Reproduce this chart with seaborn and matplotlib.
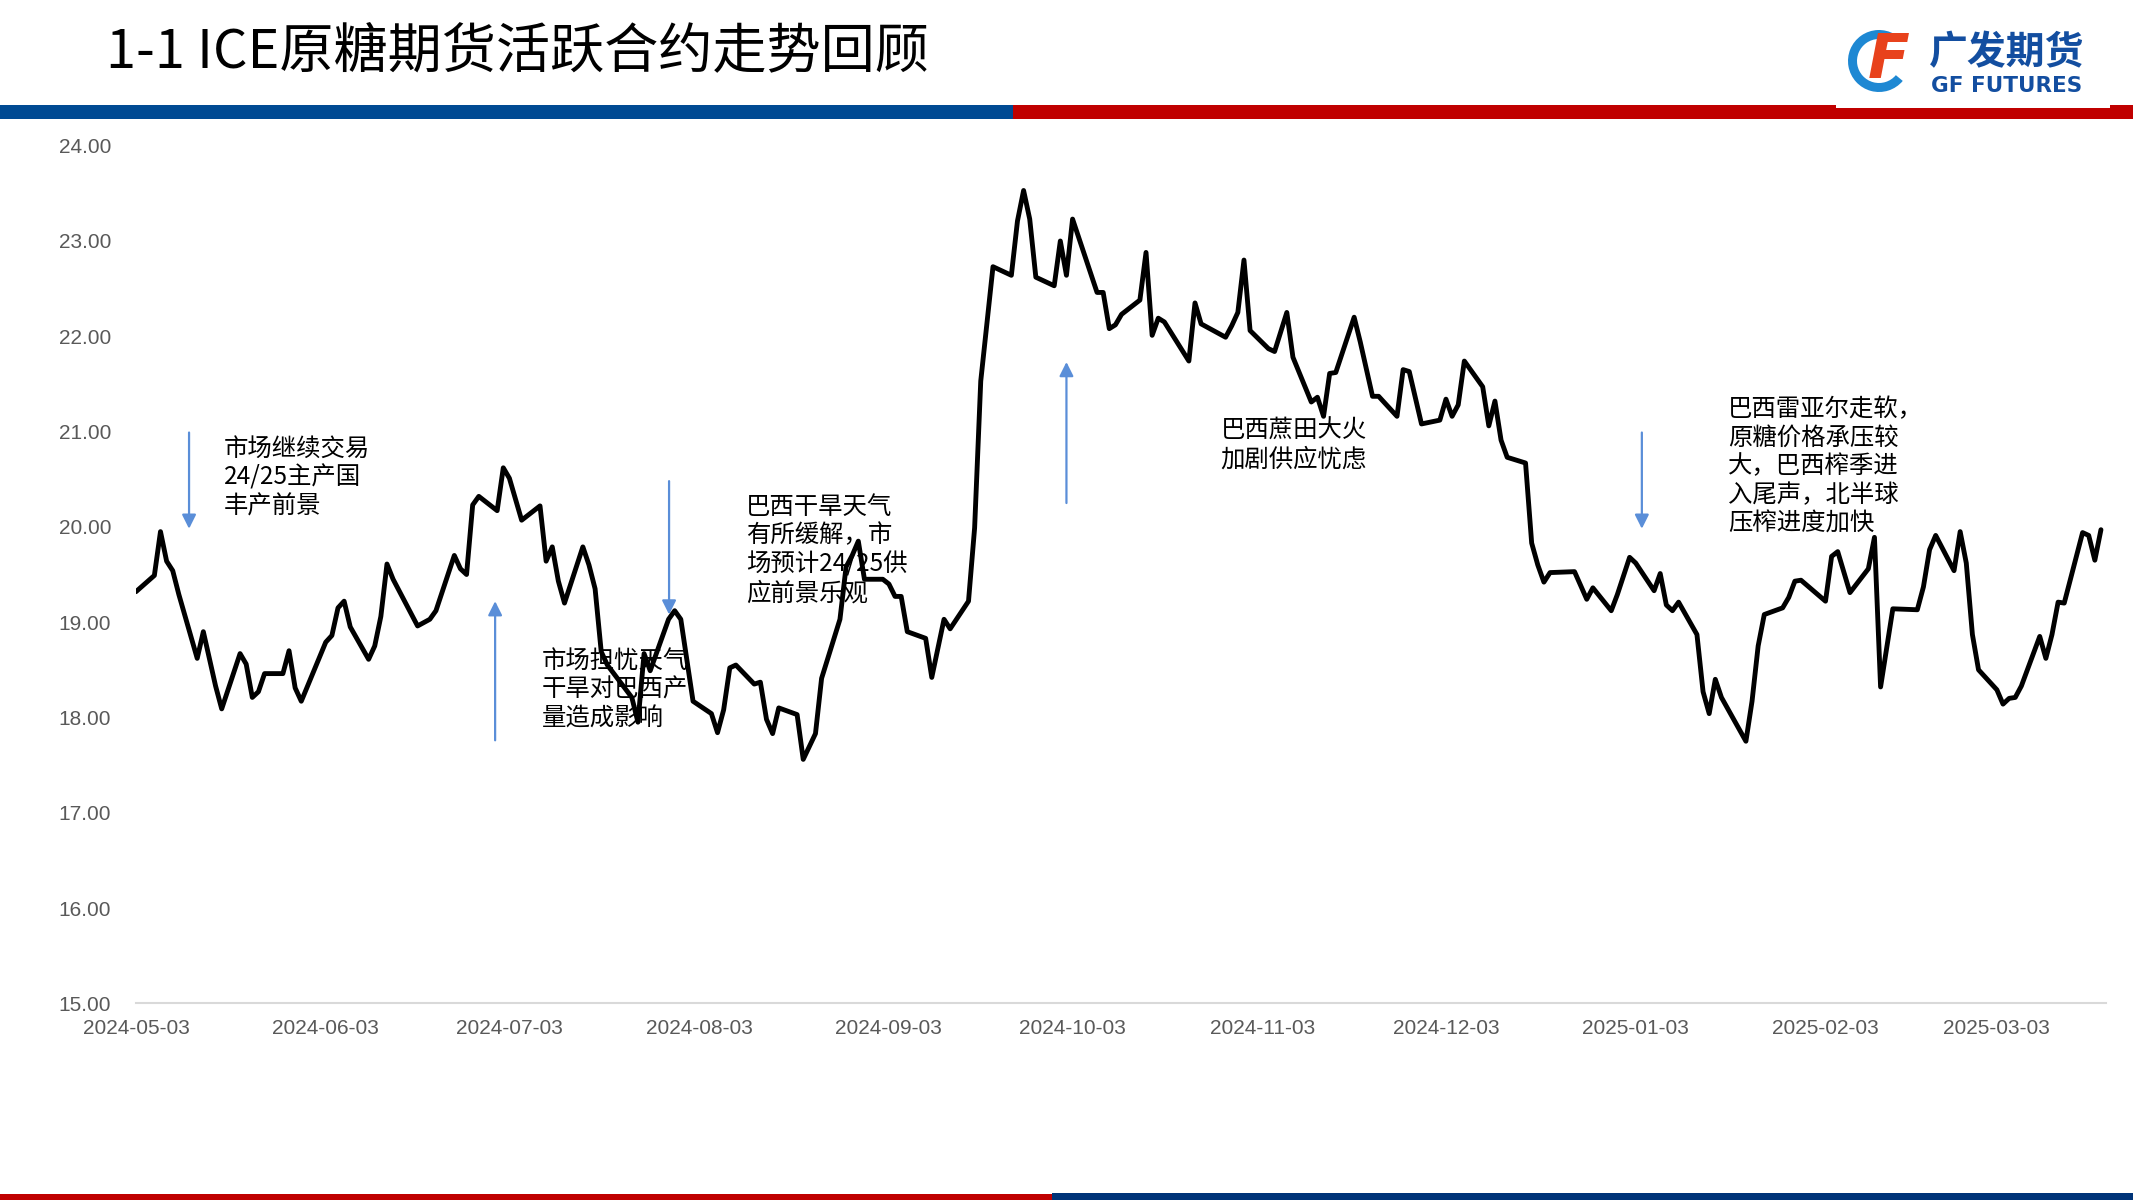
import pandas as pd
import matplotlib
matplotlib.use('Agg')
import matplotlib.pyplot as plt
from matplotlib.patches import Rectangle, Wedge
import seaborn as sns

# ICE raw sugar active contract
dates = [
    '2024-05-03', '2024-05-06', '2024-05-07', '2024-05-08', '2024-05-09', '2024-05-10',
    '2024-05-13', '2024-05-14', '2024-05-16', '2024-05-17', '2024-05-20', '2024-05-21',
    '2024-05-22', '2024-05-23', '2024-05-24', '2024-05-27', '2024-05-28', '2024-05-29',
    '2024-05-30',
    '2024-06-03', '2024-06-04', '2024-06-05', '2024-06-06', '2024-06-07', '2024-06-10',
    '2024-06-11', '2024-06-12', '2024-06-13', '2024-06-14', '2024-06-18', '2024-06-20',
    '2024-06-21', '2024-06-24', '2024-06-25', '2024-06-26', '2024-06-27', '2024-06-28',
    '2024-07-01', '2024-07-02', '2024-07-03', '2024-07-05', '2024-07-08', '2024-07-09',
    '2024-07-10', '2024-07-11', '2024-07-12', '2024-07-15', '2024-07-16', '2024-07-17',
    '2024-07-18', '2024-07-19', '2024-07-23', '2024-07-24', '2024-07-25', '2024-07-26',
    '2024-07-29', '2024-07-30', '2024-07-31',
    '2024-08-02', '2024-08-05', '2024-08-06', '2024-08-07', '2024-08-08', '2024-08-09',
    '2024-08-12', '2024-08-13', '2024-08-14', '2024-08-15', '2024-08-16', '2024-08-19',
    '2024-08-20', '2024-08-22', '2024-08-23', '2024-08-26', '2024-08-27', '2024-08-28',
    '2024-08-29', '2024-08-30',
    '2024-09-02', '2024-09-03', '2024-09-04', '2024-09-05', '2024-09-06', '2024-09-09',
    '2024-09-10', '2024-09-12', '2024-09-13', '2024-09-16', '2024-09-17', '2024-09-18',
    '2024-09-20', '2024-09-23', '2024-09-24', '2024-09-25', '2024-09-26', '2024-09-27',
    '2024-09-30',
    '2024-10-01', '2024-10-02', '2024-10-03', '2024-10-07', '2024-10-08', '2024-10-09',
    '2024-10-10', '2024-10-11', '2024-10-14', '2024-10-15', '2024-10-16', '2024-10-17',
    '2024-10-18', '2024-10-22', '2024-10-23', '2024-10-24', '2024-10-28', '2024-10-29',
    '2024-10-30', '2024-10-31',
    '2024-11-01', '2024-11-04', '2024-11-05', '2024-11-07', '2024-11-08', '2024-11-11',
    '2024-11-12', '2024-11-13', '2024-11-14', '2024-11-15', '2024-11-18', '2024-11-19',
    '2024-11-21', '2024-11-22', '2024-11-25', '2024-11-26', '2024-11-27', '2024-11-29',
    '2024-12-02', '2024-12-03', '2024-12-04', '2024-12-05', '2024-12-06', '2024-12-09',
    '2024-12-10', '2024-12-11', '2024-12-12', '2024-12-13', '2024-12-16', '2024-12-17',
    '2024-12-18', '2024-12-19', '2024-12-20', '2024-12-24', '2024-12-26', '2024-12-27',
    '2024-12-30', '2024-12-31',
    '2025-01-02', '2025-01-03', '2025-01-06', '2025-01-07', '2025-01-08', '2025-01-09',
    '2025-01-10', '2025-01-13', '2025-01-14', '2025-01-15', '2025-01-16', '2025-01-17',
    '2025-01-21', '2025-01-22', '2025-01-23', '2025-01-24', '2025-01-27', '2025-01-28',
    '2025-01-29', '2025-01-30',
    '2025-02-03', '2025-02-04', '2025-02-05', '2025-02-07', '2025-02-10', '2025-02-11',
    '2025-02-12', '2025-02-14', '2025-02-18', '2025-02-19', '2025-02-20', '2025-02-21',
    '2025-02-24', '2025-02-25', '2025-02-26', '2025-02-27', '2025-02-28',
    '2025-03-03', '2025-03-04', '2025-03-05', '2025-03-06', '2025-03-07', '2025-03-10',
    '2025-03-11', '2025-03-12', '2025-03-13', '2025-03-14', '2025-03-17', '2025-03-18',
    '2025-03-19', '2025-03-20',
]
prices = [
    19.32, 19.49, 19.95, 19.64, 19.54, 19.29,
    18.62, 18.90, 18.33, 18.09, 18.67, 18.56,
    18.21, 18.27, 18.46, 18.46, 18.70, 18.31,
    18.17,
    18.79, 18.86, 19.15, 19.22, 18.95, 18.61,
    18.75, 19.06, 19.61, 19.45, 18.96, 19.03,
    19.12, 19.70, 19.56, 19.50, 20.23, 20.32,
    20.17, 20.62, 20.51, 20.07, 20.22, 19.64,
    19.79, 19.43, 19.20, 19.79, 19.60, 19.35,
    18.69, 18.55, 18.21, 17.95, 18.67, 18.49,
    19.03, 19.12, 19.03,
    18.17, 18.04, 17.84, 18.08, 18.52, 18.55,
    18.35, 18.37, 17.98, 17.83, 18.10, 18.03,
    17.56, 17.83, 18.41, 19.03, 19.58, 19.70,
    19.85, 19.45,
    19.45, 19.40, 19.27, 19.27, 18.90, 18.83,
    18.42, 19.03, 18.93, 19.22, 19.99, 21.53,
    22.73, 22.64, 23.21, 23.53, 23.23, 22.62,
    22.53,
    23.00, 22.64, 23.23, 22.46, 22.46, 22.08,
    22.12, 22.23, 22.38, 22.88, 22.01, 22.19,
    22.15, 21.74, 22.35, 22.13, 21.99, 22.11,
    22.25, 22.80,
    22.06, 21.87, 21.84, 22.25, 21.78, 21.31,
    21.36, 21.16, 21.61, 21.62, 22.20, 21.94,
    21.37, 21.37, 21.16, 21.65, 21.63, 21.08,
    21.12, 21.34, 21.16, 21.28, 21.74, 21.47,
    21.06, 21.32, 20.91, 20.73, 20.67, 19.83,
    19.60, 19.42, 19.52, 19.53, 19.24, 19.36,
    19.12, 19.29,
    19.68, 19.62, 19.33, 19.51, 19.18, 19.12,
    19.21, 18.87, 18.27, 18.04, 18.40, 18.21,
    17.75, 18.17, 18.75, 19.08, 19.15, 19.26,
    19.43, 19.44,
    19.22, 19.69, 19.74, 19.31, 19.56, 19.89,
    18.32, 19.14, 19.13, 19.37, 19.76, 19.91,
    19.54, 19.95, 19.62, 18.87, 18.50,
    18.29, 18.14, 18.20, 18.21, 18.33, 18.85,
    18.62, 18.87, 19.21, 19.20, 19.94, 19.91,
    19.65, 19.97,
]

tick_dates = ['2024-05-03', '2024-06-03', '2024-07-03', '2024-08-03', '2024-09-03',
              '2024-10-03', '2024-11-03', '2024-12-03', '2025-01-03', '2025-02-03',
              '2025-03-03']
y_ticks = [15, 16, 17, 18, 19, 20, 21, 22, 23, 24]

title = '1-1 ICE原糖期货活跃合约走势回顾'

# arrows: (date, tail value, head value)
arrows = [
    ('2024-05-11 16:00', 20.99, 19.98),
    ('2024-06-30 16:00', 17.76, 19.22),
    ('2024-07-29 02:00', 20.48, 19.08),
    ('2024-10-02 00:00', 20.25, 21.73),
    ('2025-01-04 00:00', 20.99, 19.98),
]
# notes: (date of left edge, value of first line, lines)
notes = [
    ('2024-05-17 08:00', 20.82, ['市场继续交易', '24/25主产国', '丰产前景']),
    ('2024-07-08 08:00', 18.59, ['市场担忧天气', '干旱对巴西产', '量造成影响']),
    ('2024-08-10 16:00', 20.21, ['巴西干旱天气', '有所缓解，市', '场预计24/25供', '应前景乐观']),
    ('2024-10-27 04:00', 21.01, ['巴西蔗田大火', '加剧供应忧虑']),
    ('2025-01-18 02:00', 21.24, ['巴西雷亚尔走软，', '原糖价格承压较', '大，巴西榨季进',
                                 '入尾声，北半球', '压榨进度加快']),
]

sns.set_theme(style='white')
cjk = ['Noto Sans CJK SC', 'DejaVu Sans']
plt.rcParams['font.family'] = ['Liberation Sans', 'Noto Sans CJK SC', 'DejaVu Sans']

W, H = 2133, 1200
fig = plt.figure(figsize=(W / 100, H / 100), dpi=100)

# page decoration in pixel coordinates
bg = fig.add_axes([0, 0, 1, 1])
bg.set_xlim(0, W)
bg.set_ylim(H, 0)
bg.axis('off')
bg.add_patch(Rectangle((0, 105), 1013, 14, color='#004A93', lw=0))
bg.add_patch(Rectangle((1013, 105), W - 1013, 14, color='#C00000', lw=0))
bg.add_patch(Rectangle((1836, 0), 274, 108, color='white', lw=0))
bg.add_patch(Rectangle((0, 1194), 1052, 6, color='#C00000', lw=0))
bg.add_patch(Rectangle((1052, 1193), W - 1052, 7, color='#003478', lw=0))
bg.text(106, 52, title, fontsize=39, ha='left', va='center', color='black', family=cjk)

# logo
bg.add_patch(Wedge((1879, 61), 31, 40, 300, width=9, color='#1E88D3', lw=0))
bg.text(1889, 62, 'F', fontsize=44, fontstyle='italic', fontweight='bold',
        color='#E8421C', ha='center', va='center', family='DejaVu Sans')
bg.text(2007, 53, '广发期货', fontsize=28, fontweight='bold', color='#134EA0',
        ha='center', va='center', family=cjk)
bg.text(2007, 86, 'GF FUTURES', fontsize=15.5, fontweight='bold', color='#134EA0',
        ha='center', va='center', family='DejaVu Sans')

# chart
ax = fig.add_axes([136 / W, 1 - 1003.3 / H, (2105.8 - 136) / W, 857.6 / H])
ax.patch.set_alpha(0)

df = pd.DataFrame({'date': pd.to_datetime(dates), 'price': prices})
sns.lineplot(data=df, x='date', y='price', ax=ax, color='black', lw=3.5, zorder=3)

ax.set_xlim(pd.Timestamp('2024-05-03'), pd.Timestamp('2025-03-20 19:00'))
ax.set_ylim(15, 24)
ax.set_xticks(pd.to_datetime(tick_dates))
ax.set_xticklabels(tick_dates)
ax.set_yticks(y_ticks)
ax.set_yticklabels([f'{v:.2f}' for v in y_ticks])
ax.set_xlabel('')
ax.set_ylabel('')

for side in ['top', 'right', 'left']:
    ax.spines[side].set_visible(False)
ax.spines['bottom'].set_color('#D9D9D9')
ax.spines['bottom'].set_linewidth(1.5)
ax.tick_params(axis='x', length=3.6, width=1.2, color='#D9D9D9', pad=8,
               labelsize=15, labelcolor='#595959')
ax.tick_params(axis='y', length=0, pad=18, labelsize=15, labelcolor='#595959')
ax.grid(False)

for d, y0, y1 in arrows:
    x = pd.Timestamp(d)
    ax.annotate('', xy=(x, y1), xytext=(x, y0),
                arrowprops=dict(arrowstyle='-|>', color='#5A8ED8', lw=1.6,
                                mutation_scale=21, shrinkA=0, shrinkB=0),
                zorder=2)

for d, y0, lines in notes:
    x = pd.Timestamp(d)
    for i, line in enumerate(lines):
        ax.annotate(line, xy=(x, y0), xytext=(0, -20.7 * i), textcoords='offset points',
                    ha='left', va='center', fontsize=17.6, color='black',
                    family=cjk, zorder=1)

fig.savefig('out.png', dpi=100)
